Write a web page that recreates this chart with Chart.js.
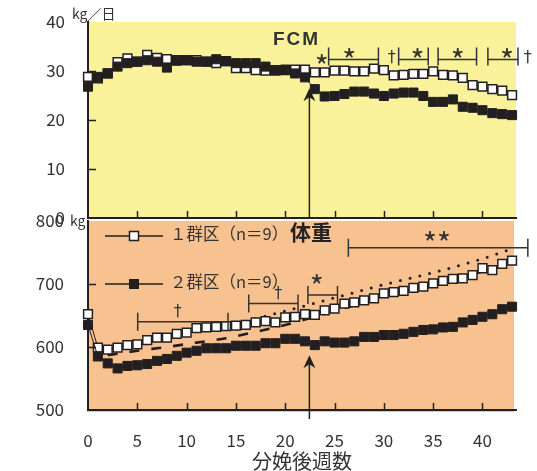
<!DOCTYPE html>
<html>
<head>
<meta charset="utf-8">
<script src="https://cdn.jsdelivr.net/npm/chart.js@4.4.1/dist/chart.umd.min.js"></script>
<style>
  html, body { margin: 0; padding: 0; background: #fff; }
  #wrap { position: relative; width: 537px; height: 471px; }
  canvas { position: absolute; left: 0; top: 0; }
</style>
</head>
<body>
<div id="wrap">
  <canvas id="fcmChart" width="537" height="471"></canvas>
  <canvas id="bwChart" width="537" height="471"></canvas>
</div>
<script>
// 分娩後週数
const weeks = [0,1,2,3,4,5,6,7,8,9,10,11,12,13,14,15,16,17,18,19,20,21,
  22,23,24,25,26,27,28,29,30,31,32,33,34,35,36,37,38,39,40,41,42,43];

// FCM (kg/日)
const fcmGroup1 = [28.8,28.5,29.5,31.8,32.6,31.9,33.3,32.7,32.4,32.2,32.2,32.2,31.9,31.6,32.0,30.6,
  30.6,30.2,30.1,30.1,30.2,30.3,30.3,29.7,29.7,30.1,30.1,29.9,29.9,30.5,30.2,29.1,29.2,29.4,29.4,
  29.9,29.2,29.1,28.6,27.1,26.8,26.3,26.0,25.1];
const fcmGroup2 = [26.8,28.8,29.5,30.9,31.6,31.9,32.2,31.9,30.7,32.1,32.2,31.9,31.9,32.4,32.0,31.6,
  31.6,31.6,30.9,30.2,30.3,29.5,28.7,26.3,24.8,24.9,25.3,25.8,25.8,25.4,24.9,25.4,25.6,25.6,24.9,
  23.7,23.7,24.2,22.7,22.5,22.0,21.4,21.2,21.0];

// 体重 (kg)
const bwGroup1 = [652,599,596,599,603,604,611,615,615,621,623,630,631,632,633,634,635,639,641,639,
  647,648,652,651,658,661,669,671,674,677,685,687,689,694,696,701,705,708,709,714,725,722,732,737];
const bwGroup2 = [635,585,574,566,570,571,573,578,581,586,591,594,598,598,598,602,602,602,606,606,
  613,613,609,603,609,607,607,609,616,616,619,619,621,624,627,628,631,632,639,643,648,652,660,664];

// 回帰曲線 (破線・点線)
const dashWeeks = [2,5,8,11,14,17,20,23,26,29,32,35,38,41,43];
const dashKg = [587,594,600,607,614,624,635,648,662,675,688,700,711,725,736];
const dotWeeks = [15,20,25,30,35,40,43];
const dotKg = [637,657,678,699,718,740,756];

// 有意差 (週)
const fcmSigRanges = [[24.4,29.45,26.5,'*'],[31.5,34.5,33.4,'*'],[35.5,39.4,37.5,'*'],[40.55,43.6,42.5,'*']];
const fcmSigMarks = [[23.7,'*'],[30.8,'†'],[44.6,'†']];
const bwSigRanges = [[5.04,14.2,9.1,'†'],[16.3,21.3,19.3,'†'],[22.3,25.3,23.2,'*'],[26.4,44.6,35.4,'**']];
const changeWeek = 22.45;

const INK = '#231f20';
const TXT = '#333';
const JP = '"Noto Sans CJK JP", "Noto Sans", sans-serif';

const pts = (xs, ys) => xs.map((w, i) => ({ x: w, y: ys[i] }));

function bgPlugin(color, ext) {
  return {
    id: 'bg',
    beforeDraw(c) {
      const a = c.chartArea, ctx = c.ctx;
      ctx.save();
      ctx.fillStyle = color;
      ctx.fillRect(a.left - 1, a.top, a.right - a.left + 1 + ext.r, a.bottom - a.top + ext.b);
      ctx.restore();
    }
  };
}

const innerTicks = {
  id: 'innerTicks',
  afterDraw(c) {
    const { ctx, chartArea: a, scales: { x, y } } = c;
    ctx.save();
    ctx.strokeStyle = INK;
    ctx.lineWidth = 1.5;
    ctx.beginPath();
    x.ticks.forEach(t => {
      if (t.value <= 0) return;
      const px = Math.round(x.getPixelForValue(t.value)) + 0.5;
      ctx.moveTo(px, a.bottom); ctx.lineTo(px, a.bottom - 7);
    });
    y.ticks.forEach(t => {
      if (t.value === y.min || t.value === y.max) return;
      const py = Math.round(y.getPixelForValue(t.value)) + 0.5;
      ctx.moveTo(a.left, py); ctx.lineTo(a.left + 8, py);
    });
    ctx.stroke();
    ctx.restore();
  }
};

function arrow(ctx, px, tipY, baseY) {
  ctx.save();
  ctx.strokeStyle = INK; ctx.fillStyle = INK; ctx.lineWidth = 1.5;
  ctx.beginPath(); ctx.moveTo(px, baseY); ctx.lineTo(px, tipY + 8); ctx.stroke();
  ctx.beginPath();
  ctx.moveTo(px, tipY); ctx.lineTo(px - 6, tipY + 13); ctx.lineTo(px, tipY + 9); ctx.lineTo(px + 6, tipY + 13);
  ctx.closePath(); ctx.fill();
  ctx.restore();
}

function bracket(ctx, x1, x2, y, up, down) {
  ctx.beginPath();
  ctx.moveTo(x1, y - up); ctx.lineTo(x1, y + down);
  ctx.moveTo(x2, y - up); ctx.lineTo(x2, y + down);
  ctx.moveTo(x1, y); ctx.lineTo(x2, y);
  ctx.stroke();
}

function mark(ctx, t, x, y) {
  ctx.font = t === '†' ? '16px "DejaVu Sans"' : '30px ' + JP;
  ctx.textAlign = 'center'; ctx.textBaseline = 'middle';
  ctx.fillText(t, x, y + (t === '†' ? 0 : 6));
}

const fcmExtras = {
  id: 'fcmExtras',
  afterDraw(c) {
    const { ctx, scales: { x, y }, chartArea: a } = c;
    ctx.save();
    ctx.fillStyle = TXT;
    ctx.font = '14px ' + JP; ctx.textAlign = 'left'; ctx.textBaseline = 'alphabetic';
    ctx.fillText('kg／日', 72, 19);
    ctx.font = 'bold 19px "Liberation Sans", Arial, sans-serif';
    ctx.letterSpacing = '2px';
    ctx.textBaseline = 'middle';
    ctx.fillText('FCM', 273, 40);
    ctx.letterSpacing = '0px';
    ctx.strokeStyle = TXT; ctx.lineWidth = 1.5;
    const by = 59.5;
    fcmSigRanges.forEach(([s, e, m, t]) => {
      bracket(ctx, x.getPixelForValue(s), x.getPixelForValue(e), by, 12, 6);
      mark(ctx, t, x.getPixelForValue(m), 55);
    });
    fcmSigMarks.forEach(([w, t]) => mark(ctx, t, x.getPixelForValue(w), t === '*' ? 61 : 58));
    ctx.restore();
    arrow(ctx, x.getPixelForValue(changeWeek), y.getPixelForValue(26.5), a.bottom);
  }
};

const bwLevels = [640, 669, 682.5, 757.6];
const bwExtras = {
  id: 'bwExtras',
  afterDraw(c) {
    const { ctx, scales: { x, y }, chartArea: a } = c;
    ctx.save();
    ctx.fillStyle = TXT;
    ctx.font = '14px ' + JP; ctx.textAlign = 'left'; ctx.textBaseline = 'alphabetic';
    ctx.fillText('kg', 70, 226);
    // legend
    const ds = c.data.datasets;
    [[ds[0], '１群区（n＝9）', 236], [ds[1], '２群区（n＝9）', 284]].forEach(([d, label, ly]) => {
      ctx.strokeStyle = INK; ctx.lineWidth = 1.5;
      ctx.beginPath(); ctx.moveTo(105, ly); ctx.lineTo(163, ly); ctx.stroke();
      ctx.fillStyle = d.pointBackgroundColor; ctx.lineWidth = d.pointBorderWidth;
      ctx.fillRect(129.5, ly - 4.5, 9, 9); ctx.strokeRect(129.5, ly - 4.5, 9, 9);
      ctx.fillStyle = TXT; ctx.font = '16.5px ' + JP; ctx.textBaseline = 'middle';
      ctx.fillText(label, 170, ly - 2);
    });
    ctx.font = 'bold 21px ' + JP; ctx.fillStyle = '#222';
    ctx.fillText('体重', 290, 232);
    ctx.fillStyle = TXT; ctx.strokeStyle = TXT; ctx.lineWidth = 1.5;
    bwSigRanges.forEach(([s, e, m, t], i) => {
      const py = y.getPixelForValue(bwLevels[i]);
      bracket(ctx, x.getPixelForValue(s), x.getPixelForValue(e), py, 9, 9);
      mark(ctx, t, x.getPixelForValue(m), py - (t === '*' ? 14 : 10));
    });
    ctx.restore();
    arrow(ctx, x.getPixelForValue(changeWeek), y.getPixelForValue(587), a.bottom + 9);
  }
};

const openStyle = {
  borderColor: INK, borderWidth: 1, pointStyle: 'rect', pointRadius: 6.2,
  pointBackgroundColor: '#fff', pointBorderColor: INK, pointBorderWidth: 1.5,
  tension: 0, clip: false
};
const filledStyle = {
  borderColor: INK, borderWidth: 1, pointStyle: 'rect', pointRadius: 6.4,
  pointBackgroundColor: INK, pointBorderColor: INK, pointBorderWidth: 1,
  tension: 0, clip: false
};

const yTickFont = { family: JP, size: 17 };
// keep the tick-label padding from pushing the plot area around
function fixYAxis(s) { s.width = 88; s.paddingTop = 0; s.paddingBottom = 0; }

new Chart(document.getElementById('fcmChart'), {
  type: 'line',
  data: {
    datasets: [
      { label: '１群区', data: pts(weeks, fcmGroup1), order: 1, ...openStyle },
      { label: '２群区', data: pts(weeks, fcmGroup2), order: 0, ...filledStyle }
    ]
  },
  options: {
    responsive: false, animation: false, devicePixelRatio: 1,
    layout: { padding: { left: 0, top: 22, right: 21, bottom: 253 } },
    plugins: { legend: { display: false }, tooltip: { enabled: false } },
    scales: {
      x: {
        type: 'linear', min: 0, max: 43.4,
        afterFit(s) { s.height = 0; s.paddingLeft = 0; s.paddingRight = 0; },
        grid: { display: false, drawTicks: false },
        border: { display: true, color: INK, width: 2 },
        ticks: { display: false, stepSize: 5, includeBounds: false }
      },
      y: {
        min: 0, max: 40,
        afterFit: fixYAxis,
        grid: { display: false, drawTicks: false },
        border: { display: true, color: INK, width: 2 },
        ticks: { stepSize: 10, padding: 23, color: TXT, font: yTickFont }
      }
    }
  },
  plugins: [bgPlugin('#f9f29b', { r: 0, b: 0 }), innerTicks, fcmExtras]
});

new Chart(document.getElementById('bwChart'), {
  type: 'line',
  data: {
    datasets: [
      { label: '１群区', data: pts(weeks, bwGroup1), order: 1, ...openStyle },
      { label: '２群区', data: pts(weeks, bwGroup2), order: 0, ...filledStyle },
      { label: 'dash', data: pts(dashWeeks, dashKg), order: 3, borderColor: INK, borderWidth: 2.6,
        borderDash: [10, 12], pointRadius: 0, tension: 0.4, cubicInterpolationMode: 'monotone', clip: false },
      { label: 'dot', data: pts(dotWeeks, dotKg), order: 2, borderColor: INK, borderWidth: 3,
        borderDash: [0, 10], borderCapStyle: 'round', pointRadius: 0, tension: 0.4,
        cubicInterpolationMode: 'monotone', clip: false }
    ]
  },
  options: {
    responsive: false, animation: false, devicePixelRatio: 1,
    layout: { padding: { left: 0, top: 221, right: 21, bottom: 0 } },
    plugins: { legend: { display: false }, tooltip: { enabled: false } },
    scales: {
      x: {
        type: 'linear', min: 0, max: 43.4,
        afterFit(s) { s.height = 61; s.paddingLeft = 0; s.paddingRight = 0; },
        grid: { display: false, drawTicks: false },
        border: { display: true, color: INK, width: 2 },
        ticks: { stepSize: 5, includeBounds: false, padding: 20, color: TXT, font: yTickFont },
        title: { display: true, text: '分娩後週数', color: TXT, padding: { top: 0, bottom: 0 },
          font: { family: JP, size: 20, lineHeight: 1 } }
      },
      y: {
        min: 500, max: 800,
        afterFit: fixYAxis,
        grid: { display: false, drawTicks: false },
        border: { display: true, color: INK, width: 2 },
        ticks: { stepSize: 100, padding: 24, color: TXT, font: yTickFont }
      }
    }
  },
  plugins: [bgPlugin('#f8c190', { r: -2, b: 2 }), innerTicks, bwExtras]
});
</script>
</body>
</html>
